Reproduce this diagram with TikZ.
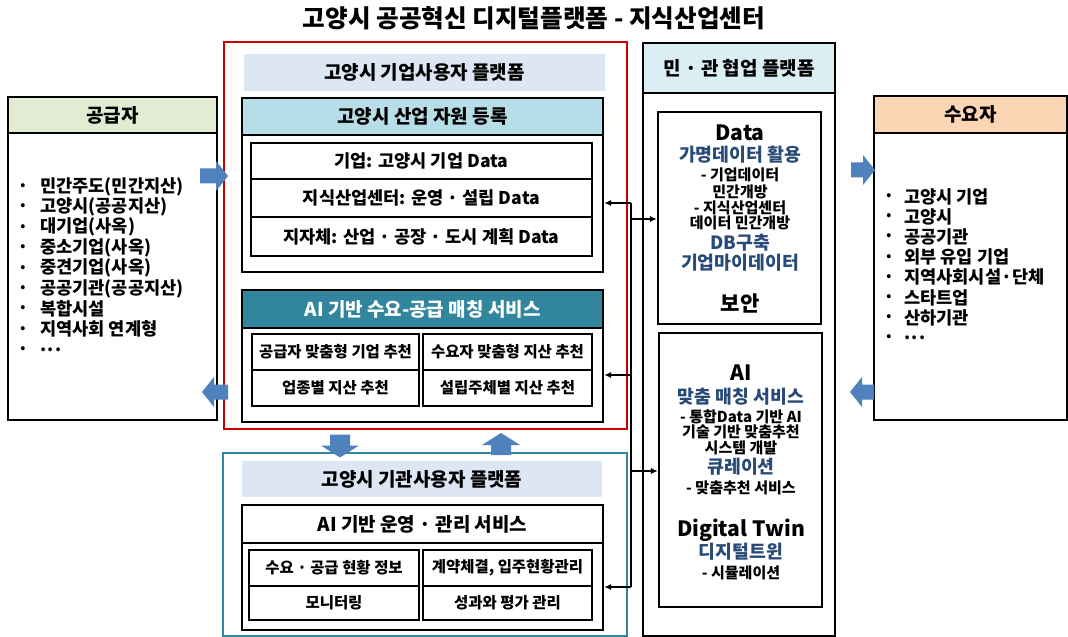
\documentclass[tikz,border=0pt]{standalone}
\usepackage{fontspec}
\setmainfont{Noto Sans CJK KR}
\usepackage{xcolor}
\usetikzlibrary{arrows.meta,fit}
\definecolor{supgreen}{RGB}{226,236,210}
\definecolor{demorange}{RGB}{252,213,180}
\definecolor{banner}{RGB}{221,231,243}
\definecolor{regcyan}{RGB}{183,222,232}
\definecolor{teal}{RGB}{49,133,156}
\definecolor{colcyan}{RGB}{218,238,243}
\definecolor{arrowblue}{RGB}{79,129,189}
\definecolor{hlblue}{RGB}{40,74,120}
\definecolor{redline}{RGB}{200,0,0}

\begin{document}
\begin{tikzpicture}[x=0.025cm,y=-0.025cm,
  box/.style={draw,line width=1.6pt,inner sep=0pt},
  plain/.style={inner sep=0pt},
  head/.style={inner sep=0pt,font=\fontsize{13.5}{15}\selectfont\bfseries},
  rowtxt/.style={inner sep=0pt,font=\fontsize{12.5}{14}\selectfont\bfseries},
  celltxt/.style={inner sep=0pt,font=\fontsize{11}{12}\selectfont\bfseries},
  item/.style={anchor=west,inner sep=0pt,font=\fontsize{12.5}{14}\selectfont\bfseries},
  big/.style={inner sep=0pt,font=\fontsize{15}{17}\selectfont\bfseries},
  hl/.style={inner sep=0pt,text=hlblue,font=\fontsize{13}{15}\selectfont\bfseries},
  small/.style={inner sep=0pt,font=\fontsize{10.7}{12}\selectfont\bfseries},
  link/.style={line width=1pt,-{Latex[length=5pt,width=4.5pt]}},
  blockarrow/.style={fill=arrowblue}]
  \useasboundingbox (0,0) rectangle (1068,637);

  % title
  \node[plain,font=\fontsize{17.5}{20}\selectfont\bfseries] (title) at (534,18) {고양시 공공혁신 디지털플랫폼 - 지식산업센터};

  % suppliers (left)
  \node[box,fit={(8,97) (217,420)}] (sup) {};
  \node[box,fill=supgreen,fit={(8,97) (217,133)},label={[head]center:공급자}] (suphead) {};
  \foreach \t [count=\i] in {민간주도(민간지산),고양시(공공지산),대기업(사옥),중소기업(사옥),중견기업(사옥),공공기관(공공지산),복합시설,지역사회 연계형,{.\kern1pt.\kern1pt.}} {
    \node[item] (sb\i) at (20,{186.5+20.4*(\i-1)}) {\fontsize{9}{10}\selectfont •};
    \node[item] (s\i) at (40,{186.5+20.4*(\i-1)}) {\t};
  }

  % demand side (right)
  \node[box,fit={(874,96) (1067,420)}] (dem) {};
  \node[box,fill=demorange,fit={(874,96) (1067,133)},label={[head]center:수요자}] (demhead) {};
  \foreach \t [count=\i] in {고양시 기업,고양시,공공기관,외부 유입 기업,지역사회시설·단체,스타트업,산하기관,{.\kern1pt.\kern1pt.}} {
    \node[item] (db\i) at (886,{196.5+20.2*(\i-1)}) {\fontsize{9}{10}\selectfont •};
    \node[item] (d\i) at (904,{196.5+20.2*(\i-1)}) {\t};
  }

  % corporate user platform
  \node[draw=redline,line width=1.3pt,inner sep=0pt,fit={(224,42) (627,429)}] (corp) {};
  \node[plain,fill=banner,fit={(244,54) (605,91)},label={[head]center:고양시 기업사용자 플랫폼}] (corpban) {};
  \node[box,fit={(242,98) (603,272)}] (reg) {};
  \node[box,fill=regcyan,fit={(242,98) (603,135)},label={[head]center:고양시 산업 자원 등록}] (reghead) {};
  \node[box,fit={(251,143) (592,179)},label={[rowtxt]center:기업: 고양시 기업 Data}] (reg1) {};
  \node[box,fit={(251,179) (592,217)},label={[rowtxt]center:지식산업센터: 운영 · 설립 Data}] (reg2) {};
  \node[box,fit={(251,217) (592,256)},label={[rowtxt]center:지자체: 산업 · 공장 · 도시 계획 Data}] (reg3) {};

  \node[box,fit={(242,290) (603,422)}] (match) {};
  \node[box,fill=teal,fit={(242,290) (603,328)},label={[head,text=white]center:AI 기반 수요-공급 매칭 서비스}] (matchhead) {};
  \node[box,fit={(252,334) (419,370)},label={[celltxt]center:공급자 맞춤형 기업 추천}] (m1) {};
  \node[box,fit={(423,334) (592,370)},label={[celltxt]center:수요자 맞춤형 지산 추천}] (m2) {};
  \node[box,fit={(252,370) (419,406)},label={[celltxt]center:업종별 지산 추천}] (m3) {};
  \node[box,fit={(423,370) (592,406)},label={[celltxt]center:설립주체별 지산 추천}] (m4) {};

  % institution user platform
  \node[draw=teal,line width=1.3pt,inner sep=0pt,fit={(223,453) (627,636)}] (gov) {};
  \node[plain,fill=banner,fit={(242,461) (602,497)},label={[head]center:고양시 기관사용자 플랫폼}] (govban) {};
  \node[box,fit={(242,505) (603,630)}] (ops) {};
  \node[box,fit={(242,505) (603,543)},label={[head]center:AI 기반 운영 · 관리 서비스}] (opshead) {};
  \node[box,fit={(249,550) (419,586)},label={[celltxt]center:수요 · 공급 현황 정보}] (o1) {};
  \node[box,fit={(423,550) (592,586)},label={[celltxt]center:계약체결, 입주현황관리}] (o2) {};
  \node[box,fit={(249,586) (419,620)},label={[celltxt]center:모니터링}] (o3) {};
  \node[box,fit={(423,586) (592,620)},label={[celltxt]center:성과와 평가 관리}] (o4) {};

  % public-private platform
  \node[box,fit={(643,43) (835,636)}] (collab) {};
  \node[box,fill=colcyan,fit={(643,43) (835,93)},label={[head]center:민 · 관 협업 플랫폼}] (collabhead) {};
  \node[box,fit={(658,112) (821,324)}] (databox) {};
  \node[box,fit={(659,333) (822,607)}] (aibox) {};
  \foreach \y/\s/\t [count=\i] in {133/big/Data,155/hl/가명데이터 활용,175/small/- 기업데이터,192/small/민간개방,
      208/small/- 지식산업센터,223/small/데이터 민간개방,243/hl/DB구축,263/hl/기업마이데이터,303/big/보안}
    \node[\s] (dt\i) at (740,\y) {\t};
  \foreach \y/\s/\t [count=\i] in {373/big/AI,397/hl/맞춤 매칭 서비스,417/small/- 통합Data 기반 AI,432/small/기술 기반 맞춤추천,
      448/small/시스템 개발,467/hl/큐레이션,488/small/- 맞춤추천 서비스,530/big/Digital Twin,552/hl/디지털트윈,573/small/- 시뮬레이션}
    \node[\s] (at\i) at (741,\y) {\t};

  % data bus
  \coordinate (bus1) at (631,203);
  \coordinate (bus2) at (631,219);
  \coordinate (bus3) at (631,375);
  \coordinate (bus4) at (631,471);
  \coordinate (bus5) at (631,587);
  \draw[line width=1pt] (bus1) -- (bus5);
  \draw[link] (bus1) -- (reg.east |- bus1);
  \draw[link] (bus2) -- (databox.west |- bus2);
  \draw[link] (bus3) -- (match.east |- bus3);
  \draw[link] (bus4) -- (aibox.west |- bus4);
  \draw[link] (bus5) -- (ops.east |- bus5);

  % block arrows: x/y/angle/length/head width/body width
  \foreach \x/\y/\a/\l/\w/\b in {214/176/0/28/30/15,215/392/180/26/30/15,863/170/0/24/30/15,862/392/180/24/30/15,
      340/446/-90/23/38/20,501/444/90/22/38/20}
    \fill[blockarrow,shift={(\x,\y)},rotate=\a] ({-\l/2},{-\b/2}) -- ({\l/2-12},{-\b/2}) -- ({\l/2-12},{-\w/2})
      -- ({\l/2},0) -- ({\l/2-12},{\w/2}) -- ({\l/2-12},{\b/2}) -- ({-\l/2},{\b/2}) -- cycle;
\end{tikzpicture}
\end{document}
